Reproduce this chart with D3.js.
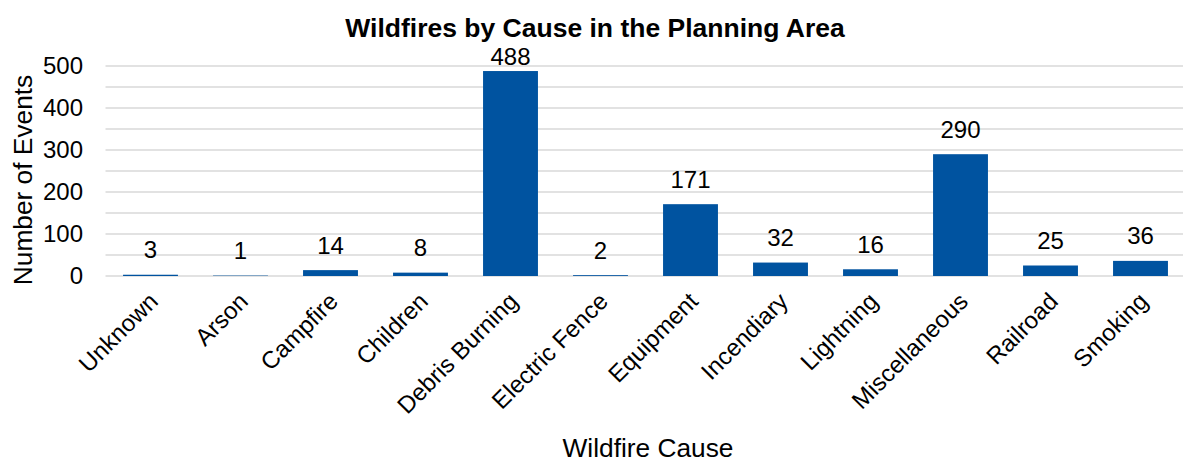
<!DOCTYPE html>
<html>
<head>
<meta charset="utf-8">
<script src="https://cdn.jsdelivr.net/npm/d3@7"></script>
<style>
  html, body { margin: 0; padding: 0; background: #fff; }
  svg { display: block; font-family: "Liberation Sans", Arial, sans-serif; }
</style>
</head>
<body>
<svg id="chart" width="1183" height="463"></svg>
<script>
// Wildfire counts by cause
const causes = ["Unknown", "Arson", "Campfire", "Children", "Debris Burning", "Electric Fence",
  "Equipment", "Incendiary", "Lightning", "Miscellaneous", "Railroad", "Smoking"];
const events = [3, 1, 14, 8, 488, 2, 171, 32, 16, 290, 25, 36];
const yTickLabels = [0, 100, 200, 300, 400, 500];
const gridValues = [0, 50, 100, 150, 200, 250, 300, 350, 400, 450, 500];

const svg = d3.select("#chart");
const plot = { left: 105.5, right: 1185.5, top: 66, bottom: 276 };

const x = d3.scaleBand().domain(causes).range([plot.left, plot.right]).paddingInner(0.39).paddingOuter(0.195);
const y = d3.scaleLinear().domain([0, 500]).range([plot.bottom, plot.top]);

// Horizontal gridlines
svg.append("g").selectAll("line").data(gridValues).join("line")
  .attr("x1", plot.left).attr("x2", plot.right)
  .attr("y1", d => y(d)).attr("y2", d => y(d))
  .attr("stroke", "#d9d9d9").attr("stroke-width", 1.5);

// Y axis labels
const yAxis = d3.axisLeft(y).tickValues(yTickLabels).tickSize(0).tickPadding(0);
svg.append("g").attr("transform", "translate(83,0)").call(yAxis)
  .call(g => g.select(".domain").remove())
  .selectAll("text").attr("font-size", 24).attr("fill", "#000")
  .attr("font-family", "Liberation Sans, Arial, sans-serif");

// Bars
svg.append("g").selectAll("rect").data(causes).join("rect")
  .attr("x", d => x(d))
  .attr("width", x.bandwidth())
  .attr("y", (d, i) => y(events[i]))
  .attr("height", (d, i) => y(0) - y(events[i]))
  .attr("fill", "#0053a0");

// Value labels above bars
svg.append("g").selectAll("text").data(causes).join("text")
  .attr("x", d => x(d) + x.bandwidth() / 2)
  .attr("y", (d, i) => Math.max(y(events[i]) - 25, 57))
  .attr("dy", "0.35em")
  .attr("text-anchor", "middle")
  .attr("font-size", 24)
  .text((d, i) => events[i]);

// Category labels (rotated)
const xAxis = d3.axisBottom(x).tickSize(0).tickPadding(0);
svg.append("g").attr("transform", `translate(0,${plot.bottom})`).call(xAxis)
  .call(g => g.select(".domain").remove())
  .selectAll("text")
  .attr("font-size", 24).attr("fill", "#000")
  .attr("font-family", "Liberation Sans, Arial, sans-serif")
  .attr("text-anchor", "end")
  .attr("transform", "translate(-3,15) rotate(-45)")
  .attr("dy", "0.7em").attr("y", 0).attr("x", 0);

// Title
svg.append("text").attr("x", 595).attr("y", 37).attr("text-anchor", "middle")
  .attr("font-size", 26.5).attr("font-weight", "bold").text("Wildfires by Cause in the Planning Area");

// Axis titles
svg.append("text").attr("x", 648).attr("y", 457).attr("text-anchor", "middle")
  .attr("font-size", 26.3).text("Wildfire Cause");
svg.append("text").attr("transform", "translate(32,180) rotate(-90)").attr("text-anchor", "middle")
  .attr("font-size", 26.3).text("Number of Events");
</script>
</body>
</html>
